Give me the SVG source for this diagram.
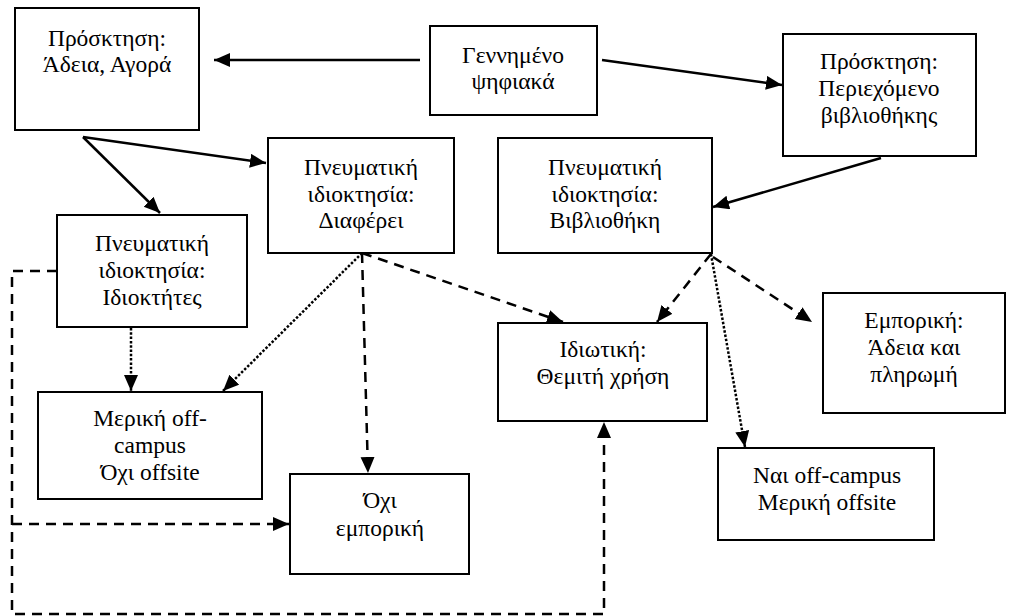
<svg xmlns="http://www.w3.org/2000/svg" width="1020" height="616" viewBox="0 0 1020 616">
<style>
.box{fill:#fff;stroke:#000;stroke-width:2}
.t{font-family:"Liberation Serif","Times New Roman",serif;font-size:23.5px;fill:#000;text-anchor:middle}
.c{fill:none;stroke:#000;stroke-width:2.5}
.dash{stroke-dasharray:10 7}
.dot{stroke-dasharray:2.5 1.8}
</style>
<defs>
<marker id="ah" markerUnits="userSpaceOnUse" markerWidth="18" markerHeight="16" refX="16" refY="7" orient="auto">
<path d="M0,0 L16,7 L0,14 z" fill="#000"/>
</marker>
</defs>
<rect width="1020" height="616" fill="#fff"/>
<g id="connectors">
<line class="c" x1="420" y1="60" x2="214" y2="60" marker-end="url(#ah)"/>
<line class="c" x1="602" y1="60" x2="782" y2="85" marker-end="url(#ah)"/>
<line class="c" x1="881" y1="158" x2="713" y2="207" marker-end="url(#ah)"/>
<line class="c" x1="83" y1="137" x2="266" y2="163" marker-end="url(#ah)"/>
<line class="c" x1="83" y1="137" x2="160" y2="213" marker-end="url(#ah)"/>
<line class="c dash" x1="362" y1="253" x2="368" y2="473" marker-end="url(#ah)"/>
<line class="c dash" x1="362" y1="253" x2="563" y2="322" marker-end="url(#ah)"/>
<line class="c dash" x1="711" y1="254" x2="657" y2="322" marker-end="url(#ah)"/>
<line class="c dash" x1="713" y1="257" x2="812" y2="322" marker-end="url(#ah)"/>
<path class="c dash" d="M57,271 H12 V614 H604 V422" marker-end="url(#ah)"/>
<line class="c dash" x1="12" y1="524" x2="289" y2="524" marker-end="url(#ah)"/>
<line class="c dot" x1="131" y1="328" x2="131" y2="391" marker-end="url(#ah)"/>
<line class="c dot" x1="362" y1="253" x2="223" y2="391" marker-end="url(#ah)"/>
<line class="c dot" x1="711" y1="254" x2="745" y2="447" marker-end="url(#ah)"/>
</g>
<g id="n1"><rect class="box" x="15" y="8" width="184" height="122"/><text class="t" x="107" y="46">Πρόσκτηση:</text><text class="t" x="107" y="72">Άδεια, Αγορά</text></g>
<g id="n2"><rect class="box" x="430" y="26" width="167" height="89"/><text class="t" x="513" y="63">Γεννημένο</text><text class="t" x="513" y="89">ψηφιακά</text></g>
<g id="n3"><rect class="box" x="783" y="34" width="193" height="122"/><text class="t" x="879" y="69">Πρόσκτηση:</text><text class="t" x="879" y="96">Περιεχόμενο</text><text class="t" x="879" y="123">βιβλιοθήκης</text></g>
<g id="n4"><rect class="box" x="268" y="138" width="186" height="115"/><text class="t" x="361" y="175">Πνευματική</text><text class="t" x="361" y="202">ιδιοκτησία:</text><text class="t" x="361" y="228">Διαφέρει</text></g>
<g id="n5"><rect class="box" x="498" y="138" width="214" height="115"/><text class="t" x="605" y="175">Πνευματική</text><text class="t" x="605" y="202">ιδιοκτησία:</text><text class="t" x="605" y="228">Βιβλιοθήκη</text></g>
<g id="n6"><rect class="box" x="57" y="215" width="190" height="112"/><text class="t" x="152" y="251">Πνευματική</text><text class="t" x="152" y="278">ιδιοκτησία:</text><text class="t" x="152" y="305">Ιδιοκτήτες</text></g>
<g id="n7"><rect class="box" x="38" y="392" width="224" height="107"/><text class="t" x="150" y="426">Μερική off-</text><text class="t" x="150" y="453">campus</text><text class="t" x="150" y="480">Όχι offsite</text></g>
<g id="n8"><rect class="box" x="290" y="474" width="179" height="100"/><text class="t" x="380" y="508">Όχι</text><text class="t" x="380" y="536">εμπορική</text></g>
<g id="n9"><rect class="box" x="498" y="323" width="209" height="98"/><text class="t" x="603" y="357">Ιδιωτική:</text><text class="t" x="603" y="384">Θεμιτή χρήση</text></g>
<g id="n10"><rect class="box" x="823" y="293" width="182" height="120"/><text class="t" x="914" y="328">Εμπορική:</text><text class="t" x="914" y="355">Άδεια και</text><text class="t" x="914" y="382">πληρωμή</text></g>
<g id="n11"><rect class="box" x="718" y="448" width="216" height="92"/><text class="t" x="827" y="483">Ναι off-campus</text><text class="t" x="827" y="510">Μερική offsite</text></g>
</svg>
